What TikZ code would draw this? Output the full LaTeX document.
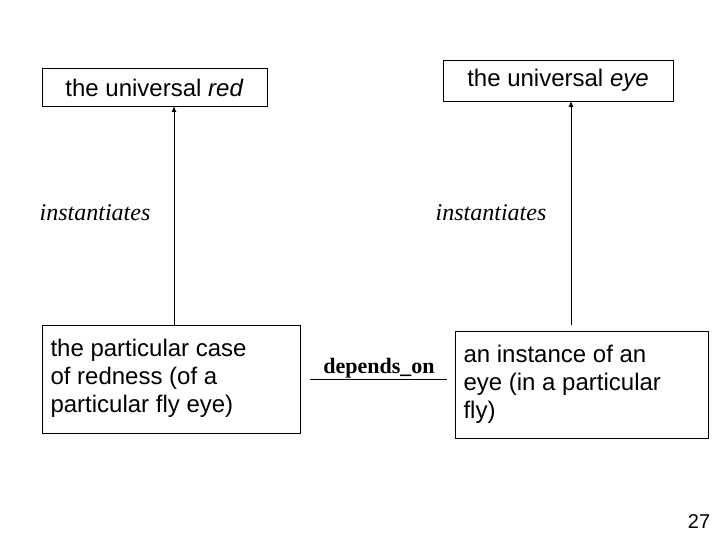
\documentclass[tikz,border=0pt]{standalone}
\usepackage{fontspec}
\usetikzlibrary{arrows.meta}
\setmainfont{Liberation Sans}
\newfontfamily\tnr{Liberation Serif}
\begin{document}
\begin{tikzpicture}[x=1pt,y=-1pt,
  box/.style={draw,line width=0.8pt,inner sep=0pt},
  lab/.style={font=\fontsize{24}{28}\selectfont,align=left},
  arr/.style={-{Latex[length=6pt,width=5pt]},line width=1pt}]
\useasboundingbox (0,0) rectangle (720,540);
\node[box,minimum width=225,minimum height=38] (red) at (154.5,87) {};
\node[lab] at (154.5,88) {the universal \textit{red}};
\node[box,minimum width=230,minimum height=41] (eye) at (558,80.5) {};
\node[lab] at (558,80) {the universal \textit{eye}};
\node[box,minimum width=258,minimum height=108] (case) at (171,379) {};
\node[lab,anchor=west] at (47,378) {the particular case\\of redness (of a\\particular fly eye)};
\node[box,minimum width=253,minimum height=107] (inst) at (581.5,384.5) {};
\node[lab,anchor=west] at (460,384) {an instance of an\\eye (in a particular\\fly)};
\draw[arr] (174,325) -- (174,106);
\draw[arr] (571,325) -- (571,101);
\node[font=\tnr\itshape\fontsize{24}{28}\selectfont] at (95,213) {instantiates};
\node[font=\tnr\itshape\fontsize{24}{28}\selectfont] at (491,213) {instantiates};
\node[font=\tnr\bfseries\fontsize{22}{26}\selectfont] (dep) at (379,368) {depends\_on};
\draw[line width=1pt] (310,379) -- (447,379);
\node[font=\fontsize{20}{24}\selectfont] (pg) at (699,522) {27};
\end{tikzpicture}
\end{document}
